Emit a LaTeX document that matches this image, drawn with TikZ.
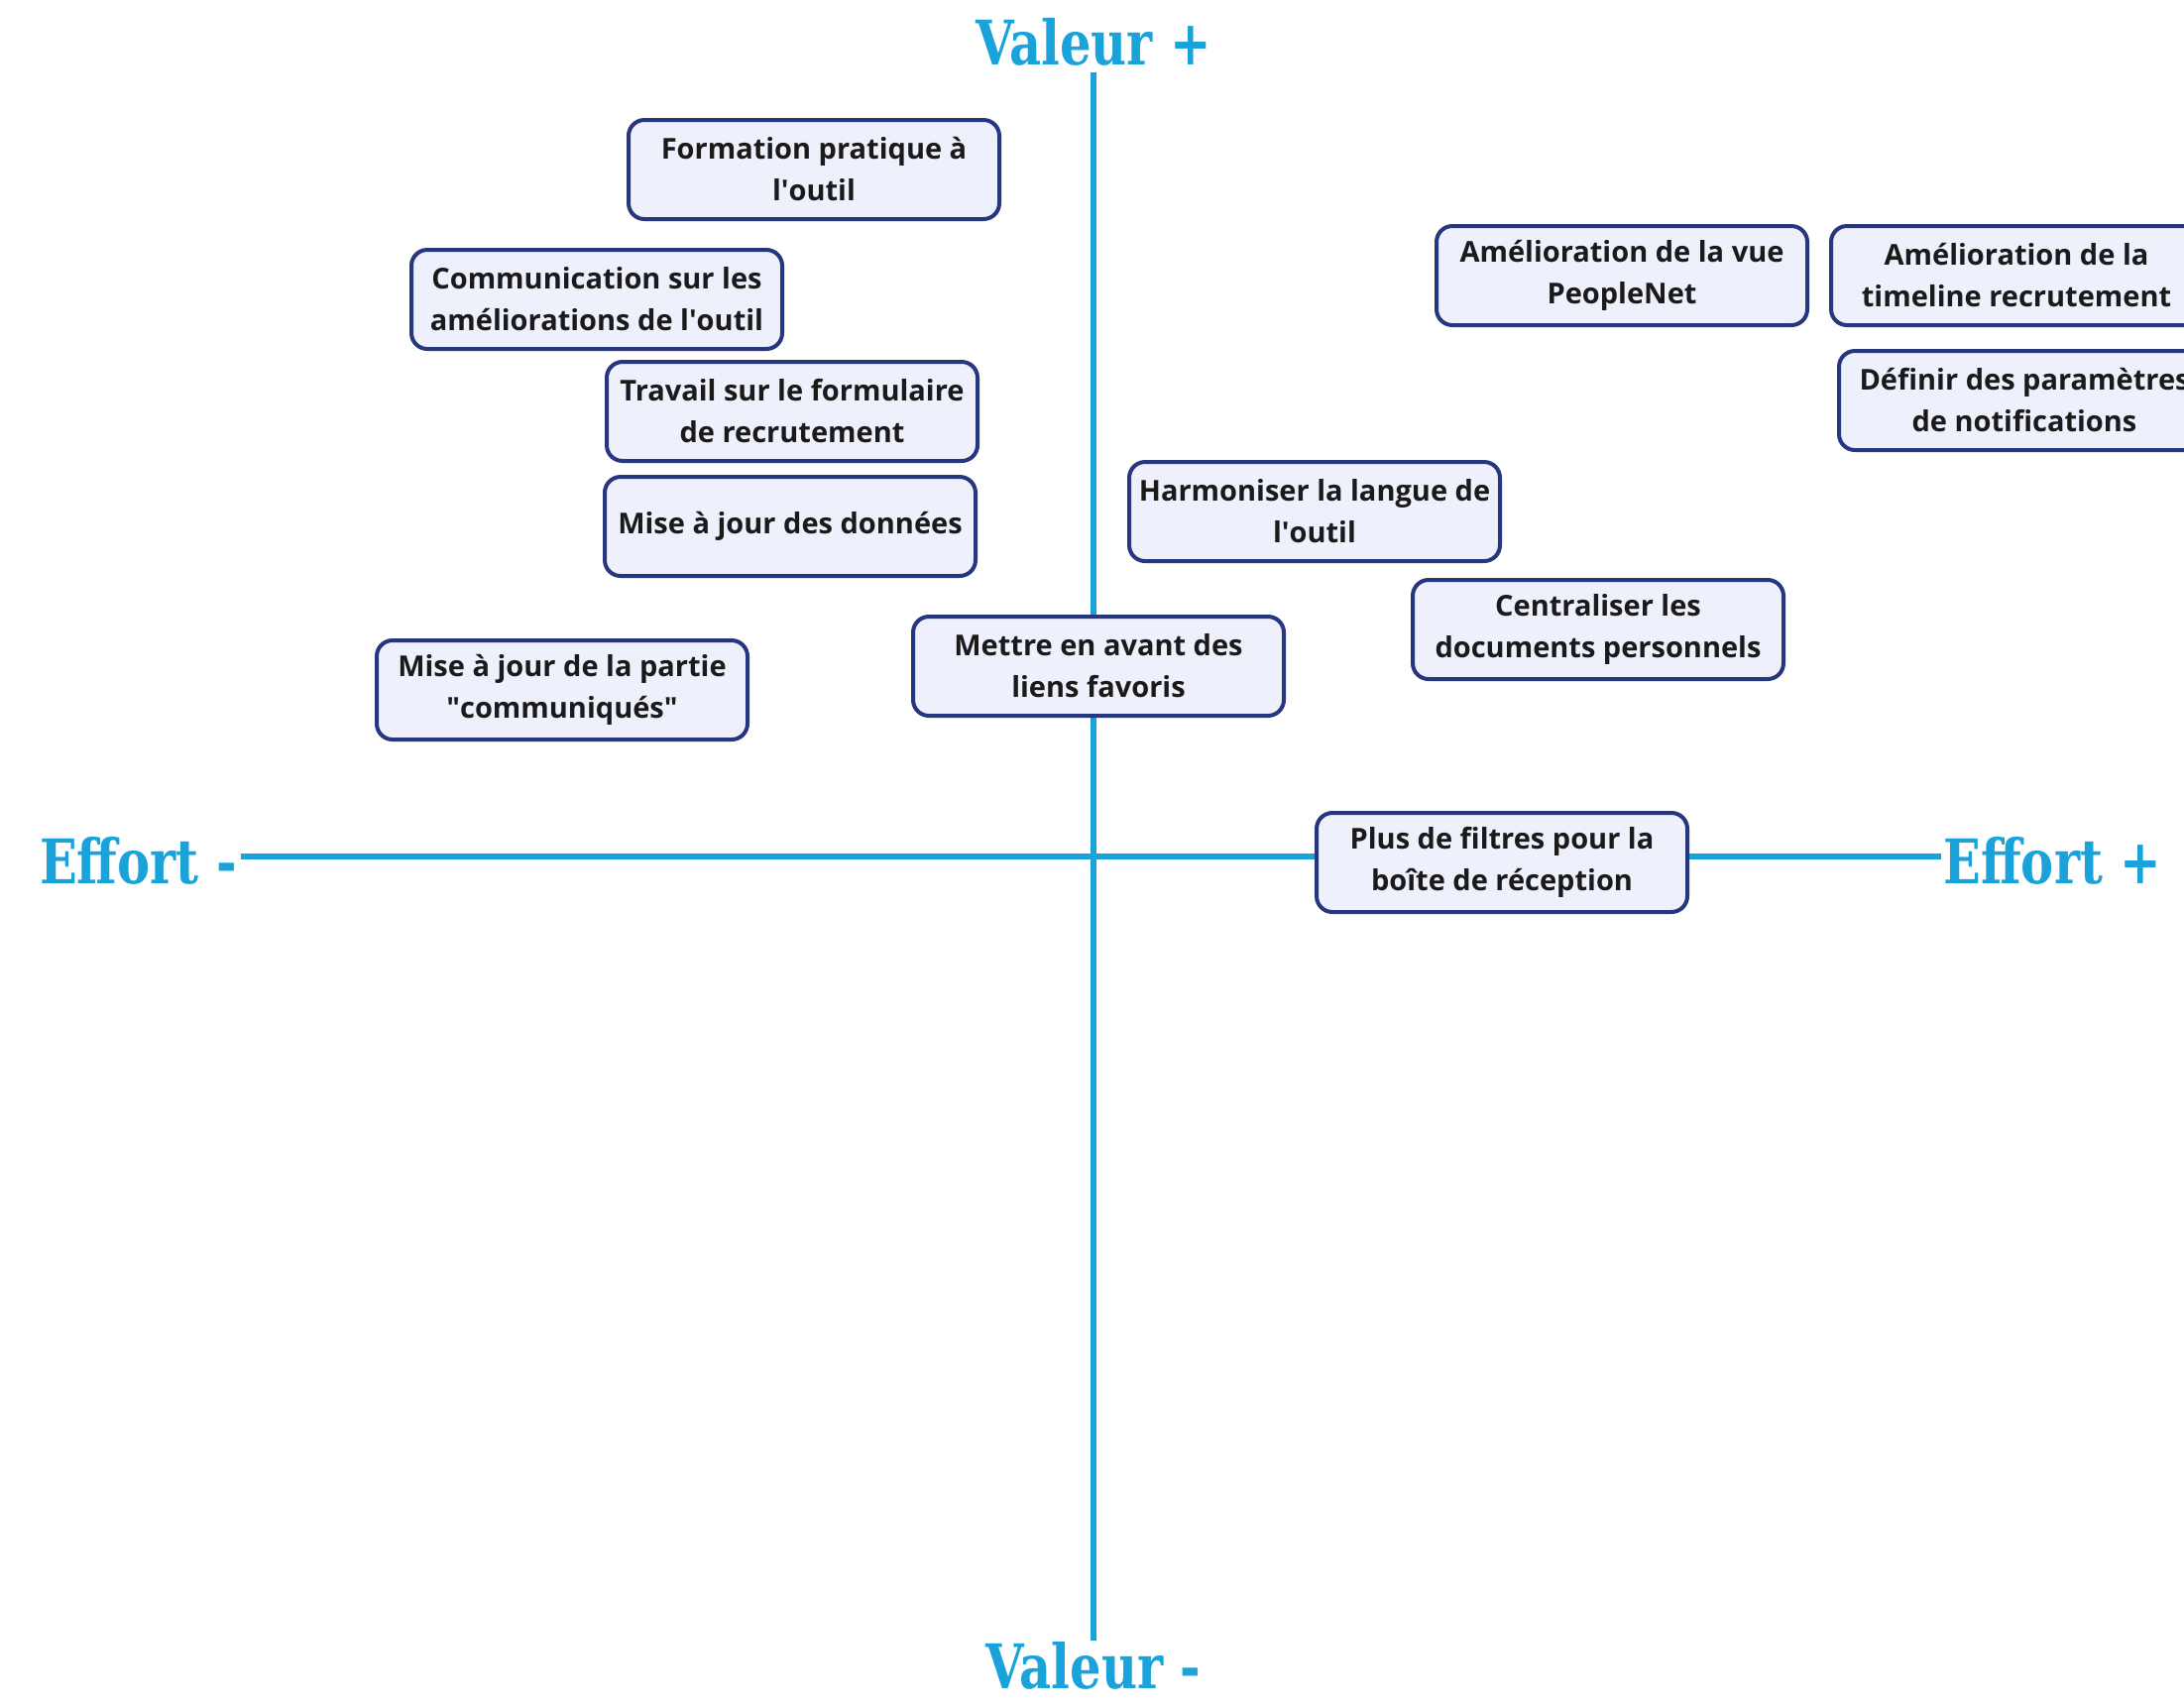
\documentclass[tikz,border=0pt]{standalone}
\usepackage{fontspec}
\setmainfont{Open Sans}
\newfontfamily\axisfont[FakeStretch=0.8]{DejaVu Serif}
\definecolor{axisblue}{HTML}{1AA3DB}
\definecolor{boxborder}{HTML}{26377F}
\definecolor{boxfill}{HTML}{EEF0FB}
\definecolor{boxtext}{HTML}{1A1A1A}
\begin{document}
\begin{tikzpicture}[x=0.5pt,y=-0.5pt,
  idea/.style={draw=boxborder, line width=2pt, fill=boxfill, rounded corners=8pt,
    minimum width=187pt, minimum height=50pt, align=center, inner sep=2pt,
    text=boxtext, font=\bfseries\fontsize{14.5}{21}\selectfont},
  axislabel/.style={text=axisblue, inner sep=0pt, font=\axisfont\bfseries\fontsize{31}{34}\selectfont},
  axisline/.style={draw=axisblue, line width=3pt}]
\useasboundingbox (0,0) rectangle (2203,1721);
\fill[white] (0,0) rectangle (2203,1721);

% axis labels
\node[axislabel] (vp) at (1103,42) {Valeur +};
\node[axislabel] (vm) at (1103,1680) {Valeur -};
\node[axislabel, anchor=east] (em) at (239,868) {Effort -};
\node[axislabel, anchor=west] (ep) at (1960,868) {Effort +};

% axis lines
\coordinate (vtop) at (1103,73);
\coordinate (vbot) at (1103,1655);
\coordinate (hleft) at (243,864);
\coordinate (hright) at (1958,864);
\draw[axisline] (vtop) -- (vbot);
\draw[axisline] (hleft) -- (hright);

% ideas
\node[idea] (b1) at (821,171) {Formation pratique à\\l\textquotesingle outil};
\node[idea] (b2) at (602,302) {Communication sur les\\améliorations de l\textquotesingle outil};
\node[idea] (b3) at (799,415) {Travail sur le formulaire\\de recrutement};
\node[idea] (b4) at (797,531) {Mise à jour des données};
\node[idea] (b5) at (567,696) {Mise à jour de la partie\\\textquotedbl communiqués\textquotedbl};
\node[idea] (b6) at (1108,672) {Mettre en avant des\\liens favoris};
\node[idea] (b7) at (1326,516) {Harmoniser la langue de\\l\textquotesingle outil};
\node[idea] (b8) at (1612,635) {Centraliser les\\documents personnels};
\node[idea] (b9) at (1636,278) {Amélioration de la vue\\PeopleNet};
\node[idea] (b10) at (2034,278) {Amélioration de la\\timeline recrutement};
\node[idea] (b11) at (2042,404) {Définir des paramètres\\de notifications};
\node[idea] (b12) at (1515,870) {Plus de filtres pour la\\boîte de réception};
\end{tikzpicture}
\end{document}
